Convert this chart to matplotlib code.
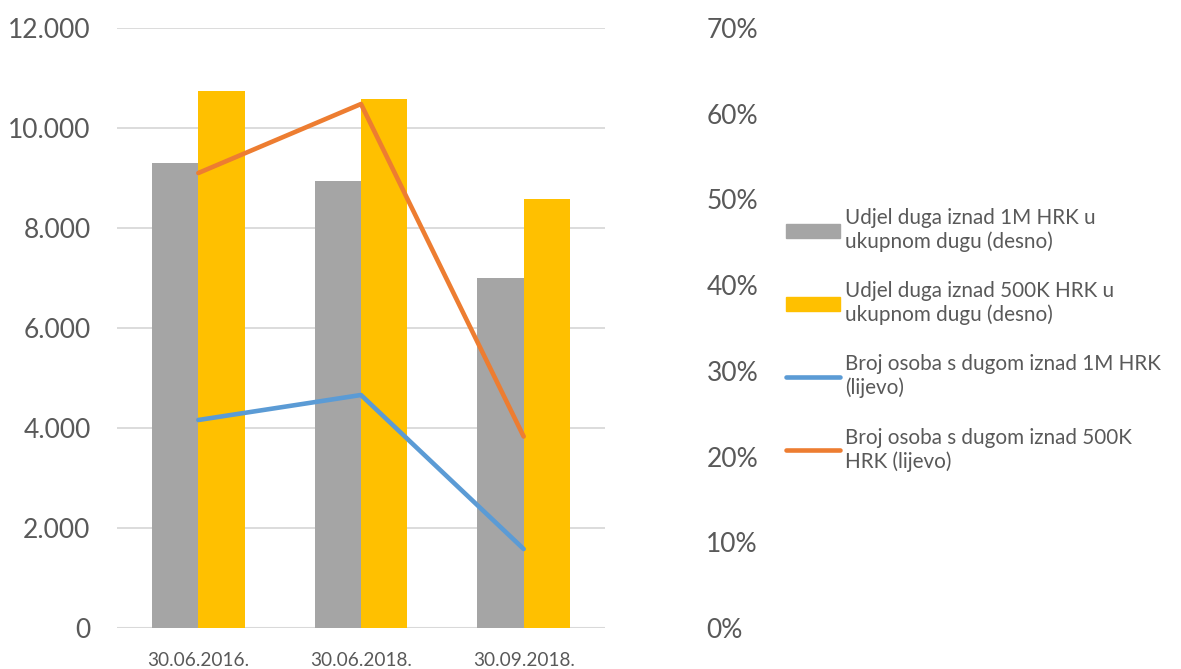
import numpy as np
import matplotlib.pyplot as plt
from matplotlib.patches import Patch
from matplotlib.lines import Line2D

plt.rcParams['font.family'] = ['Lato', 'DejaVu Sans']

# Data
dates = ['30.06.2016.', '30.06.2018.', '30.09.2018.']
share_1m = [54.2, 52.2, 40.8]      # % (desno)
share_500k = [62.7, 61.7, 50.0]    # % (desno)
count_1m = [4160, 4660, 1580]      # broj osoba (lijevo)
count_500k = [9100, 10480, 3830]   # broj osoba (lijevo)

labels = ['Udjel duga iznad 1M HRK u\nukupnom dugu (desno)',
          'Udjel duga iznad 500K HRK u\nukupnom dugu (desno)',
          'Broj osoba s dugom iznad 1M HRK\n(lijevo)',
          'Broj osoba s dugom iznad 500K\nHRK (lijevo)']

grey = '#a5a5a5'
yellow = '#ffc000'
blue = '#5b9bd5'
orange = '#ed7d31'
txt = '#595959'

W, H = 1181, 669
fig = plt.figure(figsize=(W / 100, H / 100), dpi=100)
ax = fig.add_axes([117 / W, 1 - 628 / H, (605 - 117) / W, 600 / H])

x = np.arange(len(dates))
bw = 0.284
# gridlines behind the bars
for v in range(2000, 12001, 2000):
    ax.axhline(v / 12000 * 70, color='#d9d9d9', lw=1.3, zorder=0)
ax.axhline(0, color='#d9d9d9', lw=1.5, zorder=1)
# bars on the percent scale (drawn first, under lines)
ax.bar(x - bw / 2, share_1m, bw, color=grey, zorder=2)
ax.bar(x + bw / 2, share_500k, bw, color=yellow, zorder=2)
ax.set_ylim(0, 70)
ax.set_xlim(-0.5, 2.5)
ax.set_xticks(x)
ax.set_xticklabels(dates)
ax.tick_params(axis='x', length=0, pad=17, labelsize=13.7, labelcolor=txt)
for s in ax.spines.values():
    s.set_visible(False)

ax2 = ax.twinx()
ax2.plot(x, count_1m, color=blue, lw=3.3, solid_capstyle='round', zorder=3)
ax2.plot(x, count_500k, color=orange, lw=3.3, solid_capstyle='round', zorder=3)
ax2.set_ylim(0, 12000)
ax2.set_yticks(np.arange(0, 12001, 2000))
ax2.set_yticklabels(['{:,}'.format(v).replace(',', '.') for v in range(0, 12001, 2000)])
ax2.yaxis.tick_left()
ax2.tick_params(axis='y', length=0, pad=19, labelsize=19, labelcolor=txt)
for s in ax2.spines.values():
    s.set_visible(False)

# percent axis on the right, after twinx
ax.yaxis.tick_right()
ax.set_yticks(np.arange(0, 71, 10))
ax.set_yticklabels(['{}%'.format(v) for v in range(0, 71, 10)])
ax.tick_params(axis='y', length=0, pad=73, labelsize=19, labelcolor=txt)

handles = [Patch(color=grey), Patch(color=yellow),
           Line2D([], [], color=blue, lw=3.3, solid_capstyle='round'),
           Line2D([], [], color=orange, lw=3.3, solid_capstyle='round')]
leg = fig.legend(handles, labels, loc='upper left', bbox_to_anchor=(786 / W, 1 - 208 / H),
                 frameon=False, fontsize=14.85, labelspacing=1.42, handlelength=2.6,
                 handleheight=0.7, handletextpad=0.25, borderaxespad=0, borderpad=0)
for t in leg.get_texts():
    t.set_color(txt)

fig.savefig('out.png', dpi=100)
